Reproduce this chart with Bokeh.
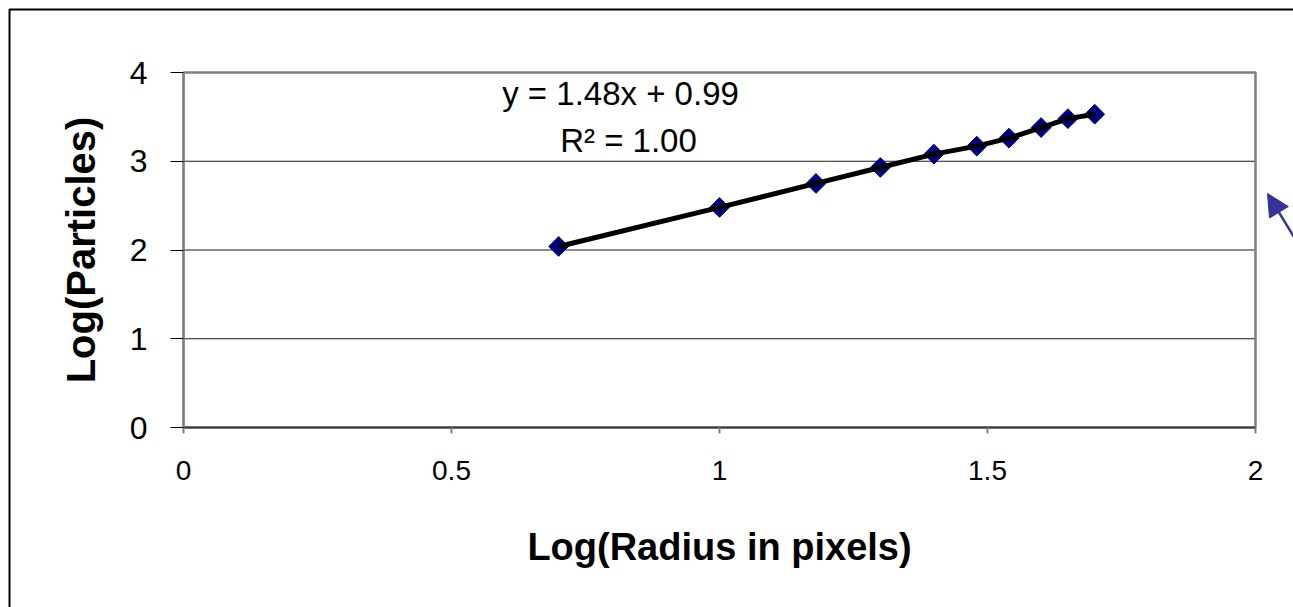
from bokeh.plotting import figure
from bokeh.models import Range1d, FixedTicker, Label, Arrow, NormalHead, LinearAxis
from bokeh.embed import file_html
from bokeh.resources import INLINE
import math

# Log-log data: radius (pixels) vs. number of particles inside that radius
log_radius = [0.70, 1.00, 1.18, 1.30, 1.40, 1.48, 1.54, 1.60, 1.65, 1.70]
log_particles = [2.04, 2.48, 2.75, 2.93, 3.08, 3.17, 3.26, 3.38, 3.48, 3.53]

x_ticks = [0, 0.5, 1, 1.5, 2]
x_tick_labels = ["0", "0.5", "1", "1.5", "2"]
y_ticks = [0, 1, 2, 3, 4]

fit_slope = 1.48
fit_intercept = 0.99
r_squared = 1.00

FONT = "Liberation Sans"

# page size and where the plot area sits on it (pixels)
W, H = 1293, 607
PA_LEFT, PA_RIGHT, PA_TOP, PA_BOTTOM = 183, 1255, 72, 427

x0, x1 = x_ticks[0], x_ticks[-1]
y0, y1 = y_ticks[0], y_ticks[-1]
x_per_px = (x1 - x0) / (PA_RIGHT - PA_LEFT)
y_per_px = (y1 - y0) / (PA_BOTTOM - PA_TOP)


def px_x(px):
    return x0 + (px - PA_LEFT) * x_per_px


def px_y(py):
    return y0 + (PA_BOTTOM - py) * y_per_px


# the frame fills the whole canvas; axes are pinned to the plot-area edges
p = figure(
    width=W, height=H,
    x_range=Range1d(px_x(0), px_x(W)), y_range=Range1d(px_y(H), px_y(0)),
    output_backend="svg", toolbar_location=None,
    x_axis_location=None, y_axis_location=None,
    min_border=0,
)
p.min_border_left = p.min_border_right = p.min_border_top = p.min_border_bottom = 0
p.background_fill_color = "white"
p.border_fill_color = "white"
p.outline_line_color = None
p.grid.visible = False

# outer chart border
p.quad(left=px_x(9), right=px_x(W + 50), top=px_y(9), bottom=px_y(H + 50),
       fill_color=None, line_color="black", line_width=2)

# horizontal gridlines inside the plot area
p.segment(x0=[x0] * (len(y_ticks) - 2), x1=[x1] * (len(y_ticks) - 2),
          y0=y_ticks[1:-1], y1=y_ticks[1:-1], line_color="#1a1a1a", line_width=1)

# plot-area border
p.quad(left=x0, right=x1, bottom=y0, top=y1, fill_color=None,
       line_color="#808080", line_width=2.5)

# axes
xaxis = LinearAxis(fixed_location=y0, bounds=(x0, x1))
yaxis = LinearAxis(fixed_location=x0, bounds=(y0, y1))
p.add_layout(xaxis, "below")
p.add_layout(yaxis, "left")

xaxis.ticker = FixedTicker(ticks=x_ticks)
xaxis.major_label_overrides = dict(zip(x_ticks, x_tick_labels))
yaxis.ticker = FixedTicker(ticks=y_ticks)

xaxis.axis_label = "Log(Radius in pixels)"
yaxis.axis_label = "Log(Particles)"
for ax in (xaxis, yaxis):
    ax.axis_label_text_font = FONT
    ax.axis_label_text_font_style = "bold"
    ax.axis_label_text_color = "black"
    ax.major_label_text_font = FONT
    ax.major_label_text_color = "black"
    ax.minor_tick_line_color = None
    ax.major_tick_in = 0

xaxis.axis_label_text_font_size = "38px"
xaxis.major_label_text_font_size = "28px"
xaxis.major_tick_out = 6
xaxis.major_tick_line_color = "#808080"
xaxis.major_tick_line_width = 2
xaxis.axis_line_color = "#404040"
xaxis.axis_line_width = 2
xaxis.major_label_standoff = 27
xaxis.axis_label_standoff = 43

yaxis.axis_label_text_font_size = "40px"
yaxis.major_label_text_font_size = "32px"
yaxis.major_tick_out = 13
yaxis.major_tick_line_color = "black"
yaxis.major_tick_line_width = 1
yaxis.axis_line_color = "#808080"
yaxis.axis_line_width = 2
yaxis.major_label_standoff = 23
yaxis.axis_label_standoff = 24

# data markers (navy diamonds) with the connecting black line over them
p.scatter(log_radius, log_particles, marker="square", angle=math.pi / 4,
          size=14, fill_color="#000080", line_color="#000080")
p.line(log_radius, log_particles, line_color="black", line_width=5)

# trendline equation
eq1 = Label(x=px_x(620), y=px_y(93), text=f"y = {fit_slope:.2f}x + {fit_intercept:.2f}",
            text_font=FONT, text_font_size="33px", text_color="black",
            text_align="center", text_baseline="middle")
eq2 = Label(x=px_x(628), y=px_y(140), text=f"R\u00b2 = {r_squared:.2f}",
            text_font=FONT, text_font_size="33px", text_color="black",
            text_align="center", text_baseline="middle")
p.add_layout(eq1)
p.add_layout(eq2)

# pointer arrow entering from the right edge
arrow = Arrow(x_start=px_x(1312), y_start=px_y(267), x_end=px_x(1267), y_end=px_y(193),
              line_color="#333399", line_width=2.5,
              end=NormalHead(size=22, fill_color="#333399", line_color="#333399"))
p.add_layout(arrow)

open("out.html", "w").write(file_html(p, INLINE))
